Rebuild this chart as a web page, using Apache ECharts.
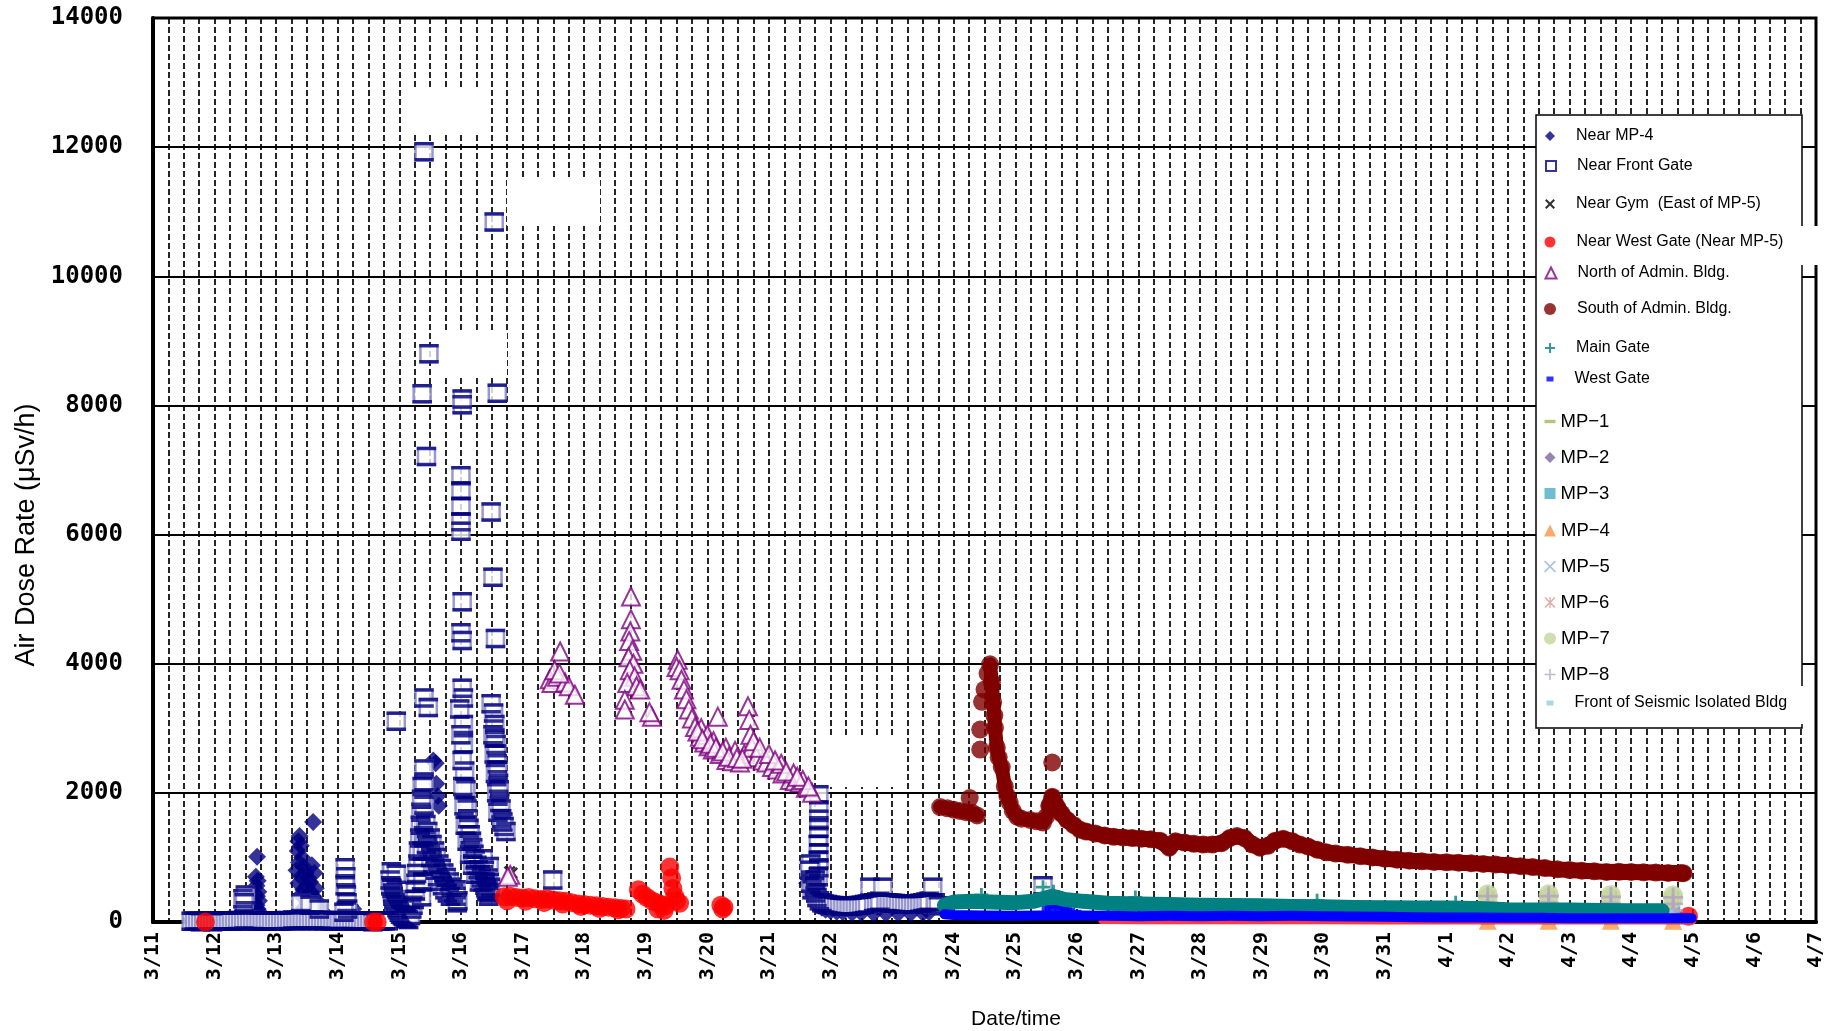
<!DOCTYPE html>
<html>
<head>
<meta charset="utf-8">
<script src="https://cdn.jsdelivr.net/npm/echarts@6/dist/echarts.min.js"></script>
<style>
html,body{margin:0;padding:0;background:#fff;}
#chart{width:1834px;height:1031px;}
</style>
</head>
<body>
<div id="chart"></div>
<script>
// ---------- DATA (x = days since 3/11 00:00, y = µSv/h) ----------
const dayLabels = ['3/11','3/12','3/13','3/14','3/15','3/16','3/17','3/18','3/19','3/20','3/21','3/22','3/23','3/24','3/25','3/26','3/27','3/28','3/29','3/30','3/31','4/1','4/2','4/3','4/4','4/5','4/6','4/7'];
const yTickMax = 14000;
const yTickStep = 2000;

const legendNames = ['Near MP-4','Near Front Gate','Near Gym  (East of MP-5)','Near West Gate (Near MP-5)','North of Admin. Bldg.','South of Admin. Bldg.','Main Gate','West Gate','MP\u22121','MP\u22122','MP\u22123','MP\u22124','MP\u22125','MP\u22126','MP\u22127','MP\u22128','Front of Seismic Isolated Bldg'];

const nearMP4 = [[1.69,1010],[1.67,700],[1.70,640],[1.68,560],[1.71,470],[1.69,400],[1.72,330],[1.68,260],[1.70,200],[1.73,150],
[2.38,1330],[2.36,1250],[2.40,1180],[2.35,1100],[2.42,1000],[2.37,920],[2.45,850],[2.33,800],[2.48,760],[2.40,700],[2.52,680],[2.36,600],[2.50,560],[2.44,500],[2.56,470],[2.40,420],[2.60,1550],[2.58,880],[2.62,760],[2.55,620],[2.64,520],[2.60,400],[2.66,330],[2.50,300],[2.70,250],[2.45,220],[2.74,180],
[3.15,330],[3.20,260],[3.25,200],
[4.55,2500],[4.59,2460],[4.60,2140],[4.62,1950],[4.64,1800],
[10.62,600],[10.66,480],[10.70,390],[10.75,320],[10.80,260],[10.86,220],[10.92,190],[11.00,170],[11.10,160],[11.20,150],[11.35,140],[11.50,140],[11.70,130],[11.90,130],[12.10,130],[12.30,130],[12.50,140],[12.60,150]];

const nearFrontGate = [
[0.62,10],[0.67,15],[0.72,10],[0.77,5],[0.82,10],[0.87,15],[0.92,10],[0.97,5],[1.02,15],[1.07,10],[1.12,20],[1.17,15],[1.22,20],[1.27,15],[1.32,20],[1.37,25],[1.42,20],[1.47,30],[1.52,25],[1.57,20],[1.62,25],[1.67,20],[1.72,15],[1.77,20],[1.82,15],[1.87,20],[1.92,10],[1.97,15],[2.02,10],[2.07,15],[2.12,20],[2.17,25],[2.22,20],[2.27,30],[2.32,25],[2.37,30],[2.42,25],[2.47,30],[2.52,20],[2.57,25],[2.62,30],[2.67,25],[2.72,30],[2.77,20],[2.82,25],[2.87,20],[2.92,15],[2.97,20],[3.02,25],[3.07,20],[3.12,25],[3.17,20],[3.22,15],[3.27,20],[3.32,15],[3.37,10],[3.42,15],[3.47,10],[3.52,15],[3.57,5],[3.62,10],[3.67,10],[3.72,15],[3.77,20],[3.82,20],
[1.46,360],[1.50,420],[1.48,300],
[2.40,300],[2.55,260],[2.70,200],
[3.12,840],[3.13,700],[3.12,560],[3.14,420],[3.15,300],[3.16,200],[3.10,150],
[3.87,780],[3.85,650],[3.88,520],[3.90,400],[3.93,300],[3.96,220],[4.00,150],[4.05,100],[4.10,60],[4.15,40],[3.95,3110],[3.95,740],
[3.86,560],[3.89,450],[3.91,350],[3.94,260],[3.98,190],[4.02,120],[4.07,80],[4.12,50],[4.18,100],[4.22,260],
[4.20,200],[4.24,350],[4.27,600],[4.30,900],[4.33,1300],[4.35,1700],[4.37,2100],[4.40,2370],[4.40,2170],[4.40,1810],[4.39,1340],[4.38,860],[4.36,390],
[4.26,480],[4.28,750],[4.31,1100],[4.34,1500],[4.36,1900],[4.38,620],[4.37,1100],
[4.40,11930],[4.48,8800],[4.37,8180],[4.44,7210],[4.40,3470],[4.47,3320],
[4.43,1510],[4.50,1300],[4.57,1100],[4.64,900],[4.72,760],[4.81,620],[4.88,450],[4.95,330],[4.40,1300],[4.47,1100],[4.54,900],[4.62,700],[4.70,560],[4.78,450],
[4.46,1400],[4.53,1200],[4.60,1000],[4.68,830],[4.76,690],[4.85,540],[4.92,400],[4.44,1200],[4.51,1000],[4.58,800],[4.66,630],[4.74,500],[4.83,400],
[5.02,8010],[5.02,8100],[5.00,6910],[5.00,6680],[5.00,6440],[5.00,6200],[5.00,6050],[5.02,4960],[5.00,4480],[5.02,4360],[5.02,3620],[5.04,3470],[5.04,3060],[5.04,2760],[5.06,2340],[5.08,2050],[5.10,1750],[5.13,1450],[5.17,1250],[5.21,1050],[5.26,880],[5.31,740],[5.36,620],[5.41,520],[5.46,450],
[4.98,3300],[5.00,2900],[5.02,2500],[5.03,2100],[5.05,1800],[5.07,1500],[5.10,1250],[5.14,1050],[5.19,880],[5.24,740],[5.30,620],[4.92,500],[4.94,300],
[5.11,1600],[5.15,1350],[5.19,1150],[5.23,960],[5.28,810],[5.33,680],[5.39,570],[5.44,490],
[5.54,10840],[5.59,8190],[5.49,6350],[5.52,5340],[5.56,4390],[5.49,3380],[5.53,3235],[5.55,3060],[5.52,2900],[5.57,2750],[5.54,2600],[5.59,2450],[5.56,2300],[5.61,2150],[5.58,2000],[5.63,1850],[5.60,1700],[5.66,1600],[5.70,1480],[5.73,1400],[5.46,860],[5.44,680],[5.48,540],[5.45,400],[5.36,980],[5.38,800],[5.40,620],[5.42,470],
[5.55,2850],[5.58,2600],[5.60,2350],[5.62,2050],[5.65,1750],[5.68,1550],
[6.49,650],
[10.81,1970],[10.81,1740],[10.81,1590],[10.81,1450],[10.81,1320],[10.80,1200],[10.81,1070],[10.81,960],[10.81,840],[10.80,700],[10.68,900],[10.66,800],[10.68,600],[10.70,500],[10.75,650],[10.74,550],[10.76,450],[10.78,380],[10.82,330],[10.86,300],[10.90,280],
[10.95,270],[11.00,260],[11.05,255],[11.10,250],[11.15,245],[11.20,240],[11.25,240],[11.30,240],[11.35,245],[11.40,250],[11.45,255],[11.50,260],[11.55,270],[11.60,280],[11.64,540],[11.70,300],[11.75,310],[11.80,320],[11.85,540],[11.90,300],[11.95,295],[12.00,290],[12.05,285],[12.10,280],[12.15,275],[12.20,270],[12.25,270],[12.30,270],[12.35,275],[12.40,280],[12.45,290],[12.50,300],[12.55,310],[12.60,320],[12.66,540],[12.70,300],[12.75,250],
[14.45,560]];

const nearGym = [[5.79,780],[5.83,760]];

const nearWestGate = [[0.85,0],[3.58,0],[3.64,0],
[5.70,390],[5.80,400],[5.90,380],[6.00,370],[6.10,380],[6.20,360],[6.30,350],[6.40,360],[6.50,340],[6.60,330],[6.70,320],[6.80,300],[6.90,280],[7.00,270],[7.10,260],[7.20,250],[7.30,240],[7.40,230],[7.50,220],[7.60,210],[7.68,200],
[5.75,330],[6.05,320],[6.35,300],[6.65,280],[6.95,240],[7.25,210],[7.55,190],
[7.88,500],[7.95,430],[8.02,380],[8.10,330],[8.18,300],[8.25,270],[8.32,250],[8.39,850],[8.42,680],[8.44,520],[8.47,400],[8.50,330],[8.55,290],[8.20,200],[8.30,180],
[9.22,260],[9.27,230],[9.25,200],
[24.93,90]];
const nearWestGateLate = [[15.40,15],[16.00,12],[17.00,12],[18.00,10],[19.00,10],[20.00,8],[21.00,8],[22.00,8],[23.00,6],[24.00,6],[25.00,6]];

const northAdmin = [[5.80,730],[5.76,700],
[6.61,4190],[6.44,3760],[6.47,3700],[6.56,3800],[6.69,3710],[6.75,3650],[6.85,3520],[6.52,3900],[6.60,3850],
[7.76,5040],[7.76,4690],[7.75,4500],[7.73,4350],[7.78,4200],[7.72,4100],[7.80,4000],[7.74,3900],[7.82,3800],[7.70,3700],[7.85,3650],[7.66,3440],[7.66,3290],[7.91,3600],[8.10,3180],[8.06,3250],
[8.52,4060],[8.50,3950],[8.55,3900],[8.58,3750],[8.62,3600],[8.66,3450],[8.70,3290],[8.75,3150],[8.80,3020],[8.88,2870],[8.95,2780],[9.02,2720],[9.09,2670],[9.17,3180],[9.20,2600],[9.31,2510],[9.40,2490],[9.53,2470],[9.60,2600],[9.66,3340],[9.68,3130],[9.70,2900],[9.72,2700],[9.80,2550],[9.90,2500],[9.96,2470],[10.05,2400],[10.13,2360],[10.22,2300],[10.34,2200],[10.42,2180],[10.50,2160],[10.60,2080],[10.70,2000],
[8.90,3000],[9.00,2900],[9.10,2800],[9.30,2700],[9.45,2650],[9.75,2800],[9.85,2700],[10.00,2600],[10.20,2450],[10.40,2300],[10.55,2200],
[8.84,2950],[8.92,2830],[9.05,2760],[9.14,2700],[9.25,2640],[9.35,2560],[9.48,2540],[9.57,2530],[10.10,2500],[10.28,2330],[10.46,2250],[10.64,2100]];

const southAdminEarly = [[12.78,1780],[12.90,1760],[13.00,1740],[13.10,1720],[13.20,1700],[13.30,1690],[13.38,1650]];
const southAdminSpikes = [[13.26,1920],[13.43,2980],[13.43,2670],[13.46,3410],[13.50,3600],[13.55,3850],[14.60,2470]];
const southAdminFall = [[13.59,3990],[13.62,3710],[13.64,3400],[13.66,3200],[13.67,3010],[13.70,2700],[13.73,2550],[13.78,2400],[13.83,2100],[13.87,1950],[13.91,1850],[13.96,1720],[14.03,1630],[14.10,1600],[14.24,1580],[14.35,1560],[14.45,1540],[14.50,1630]];
const southAdminTrend = [[14.55,1800],[14.60,1940],[14.64,1850],[14.68,1780],[14.75,1680],[14.84,1580],[14.95,1500],[15.05,1430],
[15.15,1400],[15.30,1370],[15.45,1340],[15.60,1320],[15.75,1310],[15.90,1300],[16.05,1290],[16.20,1280],[16.35,1260],[16.50,1150],[16.60,1250],[16.75,1230],[16.90,1210],[17.05,1200],[17.20,1200],[17.35,1220],[17.48,1300],[17.60,1330],[17.72,1300],[17.85,1200],[17.97,1150],[18.10,1180],[18.22,1260],[18.35,1290],[18.50,1250],[18.62,1200],[18.75,1170],[18.90,1120],[19.05,1080],[19.20,1060],[19.40,1040],[19.60,1020],[19.80,1000],[20.00,980],[20.20,965],[20.40,950],[20.60,940],[20.80,930],[21.00,925],[21.20,918],[21.40,910],[21.60,900],[21.80,890],[22.00,880],[22.20,865],[22.40,850],[22.60,835],[22.80,815],[23.00,805],[23.20,795],[23.40,785],[23.60,775],[23.80,778],[24.00,775],[24.20,770],[24.40,765],[24.60,760],[24.80,758],[24.85,755]];

const mainGate = [[14.45,540],[14.62,470],[13.45,420],[15.95,380],[18.90,330],[21.15,300]];
const mainGateBand = [[12.85,260],[13.00,310],[13.30,320],[13.60,310],[14.00,300],[14.30,320],[14.45,360],[14.60,400],[14.80,350],[15.10,320],[15.50,290],[16.00,280],[16.50,270],[17.00,260],[17.50,255],[18.00,250],[18.50,240],[19.00,235],[19.50,225],[20.00,220],[20.50,215],[21.00,215],[21.50,210],[22.00,190],[22.50,185],[23.00,185],[23.50,180],[24.00,175],[24.50,175]];

const westGate = [[14.50,200],[14.55,260],[14.60,230],[14.65,280],[14.70,200],[14.75,250],[14.80,180],[14.85,220],[14.90,150],[15.00,120],[16.90,130],[18.00,130],[18.40,120],[19.40,120],[20.10,110]];
const westGateBand = [[12.85,120],[13.00,110],[13.50,100],[14.00,95],[14.40,100],[15.10,100],[15.50,95],[16.00,90],[16.50,95],[17.00,90],[17.50,95],[18.00,90],[18.50,95],[19.00,90],[19.50,85],[20.00,80],[20.50,75],[21.00,70],[21.50,70],[22.00,65],[22.50,65],[23.00,60],[23.50,60],[24.00,60],[24.50,60],[24.98,60]];

const mp1 = [[21.67,90],[22.66,90],[23.67,90],[24.68,90]];
const mp2 = [[21.67,110],[22.66,110],[23.67,110],[24.68,110]];
const mp3 = [[21.67,200],[21.67,120],[21.67,60],[22.66,200],[22.66,120],[22.66,60],[23.67,200],[23.67,120],[23.67,60],[24.68,200],[24.68,120],[24.68,60]];
const mp4 = [[21.67,20],[22.66,20],[23.67,20],[24.68,20]];
const mp5 = [[21.66,250],[21.68,150],[22.65,250],[22.67,150],[23.66,250],[23.68,150],[24.67,250],[24.69,150]];
const mp6 = [[21.67,180],[21.67,100],[22.66,180],[22.66,100],[23.67,180],[23.67,100],[24.68,180],[24.68,100]];
const mp7 = [[21.67,430],[21.67,380],[22.66,430],[22.66,380],[23.67,420],[23.67,370],[24.68,410],[24.68,360]];
const mp8 = [[21.67,400],[21.67,300],[21.67,200],[22.66,400],[22.66,300],[22.66,200],[23.67,390],[23.67,290],[23.67,190],[24.68,380],[24.68,280],[24.68,180]];
const seismic = [[21.62,140],[22.61,140],[23.62,140],[24.63,140]];

// ---------- STYLE / LAYOUT ----------
const P_X = 'path://M1.5,0L5,3.5L8.5,0L10,1.5L6.5,5L10,8.5L8.5,10L5,6.5L1.5,10L0,8.5L3.5,5L0,1.5Z';
const P_XTHIN = 'path://M1,0L5,4L9,0L10,1L6,5L10,9L9,10L5,6L1,10L0,9L4,5L0,1Z';
const P_STAR = 'path://M1,0L5,4L9,0L10,1L6,5L10,9L9,10L5,6L1,10L0,9L4,5L0,1Z M4.4,0H5.6V10H4.4Z';
const P_PLUS = 'path://M4,0H6V4H10V6H6V10H4V6H0V4H4Z';
const P_PLUSTHIN = 'path://M4.3,0H5.7V4.3H10V5.7H5.7V10H4.3V5.7H0V4.3H4.3Z';
const P_DASH = 'path://M0,0H10V3H0Z';
const P_SMALLRECT = 'path://M0,0H7V5H0Z';
const P_BARS = 'path://M0,0H10V1.8H0Z M0,8.2H10V10H0Z';

function sc(name, data, symbol, size, itemStyle) {
  return {type:'scatter', name, data, symbol, symbolSize:size, itemStyle, clip:false, silent:true, emphasis:{disabled:true}};
}
function band(name, data, color, width) {
  return {type:'line', name, data, showSymbol:false, symbol:'none', clip:false, silent:true,
    lineStyle:{color, width, cap:'round', join:'round'}, itemStyle:{color}, emphasis:{disabled:true}};
}

const series = [
  sc(legendNames[0], nearMP4, 'diamond', 18, {color:'#000080'}),
  sc(legendNames[1], nearFrontGate, 'rect', 17, {color:'#ffffff', borderColor:'#8080c4', borderWidth:2.5}),
  sc('fg-edges', nearFrontGate, P_BARS, 19.5, {color:'#000080'}),
  sc(legendNames[2], nearGym, P_X, 12, {color:'#000000'}),
  sc(legendNames[3], nearWestGate, 'circle', 19, {color:'#ff0000'}),
  band('nwg-band', nearWestGateLate, '#ff3a3a', 6),
  sc(legendNames[4], northAdmin, 'triangle', 18, {color:'#ffffff', borderColor:'#800080', borderWidth:2}),
  band('sa-band1', southAdminEarly, '#800000', 14),
  band('sa-band2', southAdminFall, '#800000', 14),
  band('sa-band3', southAdminTrend, '#800000', 16),
  sc(legendNames[5], southAdminEarly.concat(southAdminSpikes, southAdminFall, southAdminTrend), 'circle', 18, {color:'#800000'}),
  band('mg-band', mainGateBand, '#008080', 15),
  sc(legendNames[6], mainGate, P_PLUS, 14, {color:'#008080'}),
  band('wg-band', westGateBand, '#0000ff', 10),
  sc(legendNames[7], westGate, P_SMALLRECT, 9, {color:'#0000ff'}),
  sc(legendNames[8], mp1, P_DASH, 14, {color:'#9bbb59'}),
  sc(legendNames[9], mp2, 'diamond', 13, {color:'#8064a2'}),
  sc(legendNames[10], mp3, 'rect', 14, {color:'#4bacc6'}),
  sc(legendNames[11], mp4, 'triangle', 18, {color:'#f79646'}),
  sc(legendNames[12], mp5, P_XTHIN, 14, {color:'#95b3d7'}),
  sc(legendNames[13], mp6, P_STAR, 13, {color:'#d99694'}),
  sc(legendNames[14], mp7, 'circle', 20, {color:'#c3d69b'}),
  sc(legendNames[15], mp8, P_PLUSTHIN, 20, {color:'#b3a2c7'}),
  sc(legendNames[16], seismic, P_SMALLRECT, 7, {color:'#93cddd'})
];

// legend rows: text-centre y, icon size, font size, extra text offset
const legendRows = [
  [139,10,16,16],[169,10,16,16],[207,10,16,16],[245,11,16,16],[276,11,16,16],[312,12,16,16],[351,10,16,16],[382,7,16,16],
  [423,11,18.5,0],[459,11,18.5,0],[495,11,18.5,0],[532,12,18.5,0],[568,12,18.5,0],[604,11,18.5,0],[640,12,18.5,0],[676,11,18.5,0],
  [706,7,16,16]
];
const legends = legendNames.map((nm, i) => {
  const [cy, sz, fs, off] = legendRows[i];
  const item = (i === 1) ? {name:nm, itemStyle:{color:'#ffffff', borderColor:'#000080', borderWidth:2}} : {name:nm};
  return {
    data:[item], orient:'vertical', left: 1550 - sz/2, top: cy - 11, padding:0, itemGap:0,
    itemWidth: sz, itemHeight: sz, selectedMode:false,
    formatter: n => '{t|' + n + '}',
    textStyle:{color:'#000', fontFamily:'Liberation Sans, Arial, sans-serif', fontSize:fs,
      rich:{t:{fontFamily:'Liberation Sans, Arial, sans-serif', fontSize:fs, color:'#000', lineHeight:22, padding:[0,0,0,off]}}}
  };
});

const monoBold = '"DejaVu Sans Mono", "Liberation Mono", monospace';
const chart = echarts.init(document.getElementById('chart'), null, {renderer:'canvas'});
chart.setOption({
  animation:false,
  backgroundColor:'#ffffff',
  grid:{left:153, right:18, top:18, bottom:109, show:true, borderColor:'#000', borderWidth:3, backgroundColor:'transparent'},
  xAxis:{
    type:'value', min:0, max:dayLabels.length-1, interval:1,
    axisLine:{show:true, lineStyle:{color:'#000', width:4}},
    axisTick:{show:false},
    minorTick:{show:false, splitNumber:4},
    splitLine:{show:true, lineStyle:{color:'#000', width:1.7, type:[6,3]}},
    minorSplitLine:{show:true, lineStyle:{color:'#000', width:1.7, type:[6,3]}},
    axisLabel:{rotate:90, margin:10, color:'#000', fontFamily:monoBold, fontWeight:'bold', fontSize:20,
      formatter: v => dayLabels[Math.round(v)]}
  },
  yAxis:{
    type:'value', min:0, max:yTickMax, interval:yTickStep,
    axisLine:{show:true, lineStyle:{color:'#000', width:4}},
    axisTick:{show:false},
    splitLine:{show:true, lineStyle:{color:'#000', width:1.8, type:'solid'}},
    axisLabel:{margin:30, color:'#000', fontFamily:monoBold, fontWeight:'bold', fontSize:24,
      formatter: v => String(v)}
  },
  legend: legends,
  graphic:[
    {type:'rect', z:1, shape:{x:401,y:88,width:89,height:47}, style:{fill:'#fff'}},
    {type:'rect', z:1, shape:{x:507,y:179,width:93,height:47}, style:{fill:'#fff'}},
    {type:'rect', z:1, shape:{x:445,y:330,width:62,height:47}, style:{fill:'#fff'}},
    {type:'rect', z:1, shape:{x:830,y:738,width:77,height:49}, style:{fill:'#fff'}},
    {type:'rect', z:1, shape:{x:1536,y:115,width:266,height:613}, style:{fill:'#fff', stroke:'#000', lineWidth:1.5}},
    {type:'rect', z:3, shape:{x:1796,y:226,width:38,height:39}, style:{fill:'#fff'}},
    {type:'rect', z:3, shape:{x:1798,y:686,width:8,height:38}, style:{fill:'#fff'}},
    {type:'text', z:5, x:27, y:535, rotation:Math.PI/2,
      style:{text:'Air Dose Rate (\u03bcSv/h)', fill:'#000', font:'27px "Liberation Sans", Arial, sans-serif', align:'center', verticalAlign:'middle'}},
    {type:'text', z:5, x:1016, y:1019,
      style:{text:'Date/time', fill:'#000', font:'21px "Liberation Sans", Arial, sans-serif', align:'center', verticalAlign:'middle'}}
  ],
  series
});
</script>
</body>
</html>
